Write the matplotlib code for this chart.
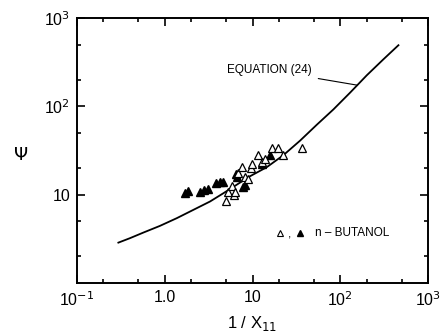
import matplotlib
matplotlib.use("Agg")
import matplotlib.pyplot as plt
from matplotlib.ticker import FixedLocator, NullFormatter

# Equation (24) curve
eq_x = [0.296, 0.40, 0.57, 0.88, 1.37, 2.12, 3.28, 4.65, 6.61, 9.36, 14.5, 22.4, 34.8,
        53.9, 83.4, 129.0, 156.0, 200.0, 310.0, 459.0]
eq_y = [2.87, 3.22, 3.73, 4.44, 5.43, 6.75, 8.39, 10.4, 13.0, 16.2, 20.5, 28.0, 41.0,
        62.0, 92.5, 143.0, 174.0, 225.0, 342.0, 493.0]

# n-butanol data, filled triangles
fill_x = [1.70, 1.84, 2.52, 2.80, 3.11, 3.84, 4.26, 4.61, 6.49, 6.66, 7.80, 8.22, 12.8, 15.8]
fill_y = [10.5, 11.1, 10.8, 11.4, 11.7, 13.7, 14.0, 14.0, 17.3, 16.0, 12.3, 13.0, 22.5, 28.5]

# n-butanol data, open triangles
open_x = [4.99, 5.26, 5.8, 6.1, 6.31, 6.84, 7.59, 8.22, 8.89, 9.62, 9.87, 11.6, 12.8, 13.9,
          16.7, 19.5, 22.3, 36.6]
open_y = [8.5, 10.8, 12.5, 10.0, 10.8, 17.8, 20.8, 16.0, 15.2, 20.3, 22.5, 28.5, 23.7, 25.7,
          34.2, 34.2, 28.5, 34.2]

plt.rcParams['font.family'] = ['Liberation Sans', 'DejaVu Sans']

fig = plt.figure(figsize=(4.4, 3.35), dpi=100)
ax = fig.add_axes([0.175, 0.155, 0.798, 0.791])

ax.plot(eq_x, eq_y, color='black', lw=1.3)
ax.plot(fill_x, fill_y, linestyle='none', marker='^', ms=6, mfc='black', mec='black')
ax.plot(open_x, open_y, linestyle='none', marker='^', ms=6, mfc='white', mec='black', mew=0.9)

ax.set_xscale('log')
ax.set_yscale('log')
ax.set_xlim(0.1, 1000)
ax.set_ylim(1, 1000)

ax.xaxis.set_major_locator(FixedLocator([0.1, 1, 10, 100, 1000]))
ax.set_xticklabels([r'10$^{-1}$', '1.0', '10', r'10$^{2}$', r'10$^{3}$'])
ax.yaxis.set_major_locator(FixedLocator([10, 100, 1000]))
ax.set_yticklabels(['10', r'10$^{2}$', r'10$^{3}$'])
minors = [m * 10.0 ** k for k in range(-1, 3) for m in (2, 5)]
ax.xaxis.set_minor_locator(FixedLocator(minors))
ax.yaxis.set_minor_locator(FixedLocator([v for v in minors if v > 1]))
ax.xaxis.set_minor_formatter(NullFormatter())
ax.yaxis.set_minor_formatter(NullFormatter())

ax.tick_params(which='both', direction='in', top=True, right=True, width=1.2)
ax.tick_params(which='major', length=6, labelsize=11.5, pad=5)
ax.tick_params(which='minor', length=3)
for s in ax.spines.values():
    s.set_linewidth(1.4)

ax.set_xlabel(r'1 / X$_{11}$', fontsize=12, labelpad=4)
ax.set_ylabel(r'$\Psi$', fontsize=13, rotation=0, labelpad=16, va='center')
ax.yaxis.set_label_coords(-0.16, 0.48)

ax.annotate('EQUATION (24)', xy=(156, 174), xytext=(15.4, 257), fontsize=8.5,
            va='center', ha='center',
            arrowprops=dict(arrowstyle='-', color='black', lw=0.8, shrinkA=3, shrinkB=0))

ax.plot([20.6], [3.7], linestyle='none', marker='^', ms=4.5, mfc='white', mec='black', mew=0.8)
ax.plot([34.7], [3.7], linestyle='none', marker='^', ms=4.5, mfc='black', mec='black')
ax.text(26.5, 3.55, ',', fontsize=8.5, ha='center', va='center')
ax.text(52, 3.7, 'n \u2013 BUTANOL', fontsize=8.5, ha='left', va='center')

fig.savefig('out.png', dpi=100)
